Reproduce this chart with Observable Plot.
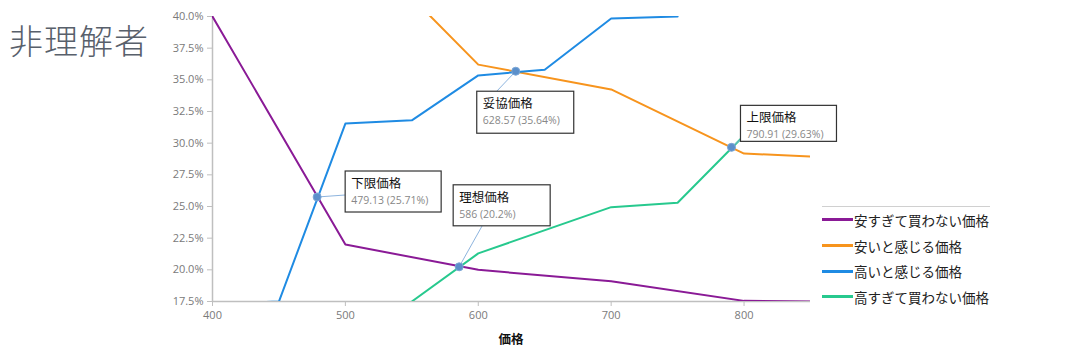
<!DOCTYPE html>
<html><head><meta charset="utf-8">
<script src="https://cdn.jsdelivr.net/npm/d3@7"></script>
<script src="https://cdn.jsdelivr.net/npm/@observablehq/plot@0.6"></script>
<style>
body{margin:0;background:#fff;font-family:"Noto Sans CJK JP","Noto Sans",sans-serif;}
#wrap{position:relative;width:1078px;height:351px;}
#title{position:absolute;left:9px;top:15px;font-size:34px;color:#58606b;font-family:"Noto Sans CJK JP",sans-serif;font-weight:300;letter-spacing:1px;}
#legend{position:absolute;left:822px;top:206px;width:168px;border-top:1px solid #d0d0d0;font-size:13.5px;color:#222;}
.li{display:flex;align-items:center;height:25.7px;}
.sw{width:31px;height:3px;margin-right:1px;}
</style></head><body>
<div id="wrap"><div id="chart"></div><div id="title">非理解者</div><div id="legend"></div></div>
<script>
const seriesNames = ["安すぎて買わない価格","安いと感じる価格","高いと感じる価格","高すぎて買わない価格"];
const colors = ["#8a1a96","#f7941d","#1f8be3","#27c98e"];
const tooCheapX = [400,500,600,700,800,850];
const tooCheapY = [40.0,22.0,20.0,19.1,17.55,17.5];
const cheapX = [550,600,700,800,850];
const cheapY = [41.5,36.2,34.24,29.18,28.95];
const expensiveX = [400,450,500,550,600,650,700,750];
const expensiveY = [17.3,17.5,31.55,31.8,35.35,35.8,39.84,40.0];
const tooExpX = [550,600,700,750,800];
const tooExpY = [17.5,21.3,24.95,25.3,30.6];
const xTicks = [400,500,600,700,800];
const yTicks = [17.5,20,22.5,25,27.5,30,32.5,35,37.5,40];
const annNames = ["下限価格","理想価格","妥協価格","上限価格"];
const annX = [479.13,586,628.57,790.91];
const annY = [25.71,20.2,35.64,29.63];
const annText = ["479.13 (25.71%)","586 (20.2%)","628.57 (35.64%)","790.91 (29.63%)"];

const xs=[tooCheapX,cheapX,expensiveX,tooExpX], ys=[tooCheapY,cheapY,expensiveY,tooExpY];
const rows=[];
seriesNames.forEach((s,i)=>xs[i].forEach((x,j)=>rows.push({s,x,y:ys[i][j]/100})));
const ann = annNames.map((n,i)=>({n,x:annX[i],y:annY[i]/100,t:annText[i]}));

const plot = Plot.plot({
  width:1078,height:351,marginLeft:212,marginRight:268,marginTop:16,marginBottom:50,
  style:{fontFamily:"'Open Sans','Noto Sans CJK JP',sans-serif",fontSize:"11px",color:"#7a7a7a"},
  x:{domain:[400,850],ticks:xTicks,tickSize:5,tickPadding:5,label:null},
  y:{domain:[0.175,0.40],ticks:yTicks.map(v=>v/100),tickFormat:d=>(d*100).toFixed(1)+"%",tickSize:5,tickPadding:4,label:null},
  color:{domain:seriesNames,range:colors},
  marks:[
    Plot.ruleY([0.175],{stroke:"#bfbfbf",strokeWidth:1.5}),
    Plot.ruleX([400],{stroke:"#bfbfbf",strokeWidth:1.5}),
    Plot.line(rows,{x:"x",y:"y",z:"s",stroke:"s",strokeWidth:2,clip:true}),
  ]
});
document.getElementById("chart").appendChild(plot);
const sx=plot.scale("x"), sy=plot.scale("y");
const svg=d3.select(plot);
svg.selectAll("[aria-label='x-axis tick'] path, [aria-label='y-axis tick'] path").attr("stroke","#bfbfbf");
svg.append("text").attr("x",sx.apply(625)).attr("y",344).attr("text-anchor","middle")
  .attr("font-size",12.5).attr("font-weight","bold").attr("fill","#111")
  .attr("font-family","'Noto Sans CJK JP'").text("価格");
const boxOff=[[28,-26,96,41],[-6,-82,97,41],[-39,20,97,42],[9,-42,96,36]];
const conn=[[0,24],[29,41],[20,0],[0,34]];
const g=svg.append("g").attr("text-anchor","start");
ann.forEach((a,i)=>{
  const px=sx.apply(a.x), py=sy.apply(a.y);
  const [ox,oy,w,h]=boxOff[i];
  const bx=px+ox, by=py+oy;
  g.append("line").attr("x1",px).attr("y1",py).attr("x2",bx+conn[i][0]).attr("y2",by+conn[i][1])
    .attr("stroke","#8db4de").attr("stroke-width",1);
  g.append("rect").attr("x",bx).attr("y",by).attr("width",w).attr("height",h)
    .attr("fill","#fff").attr("stroke","#333").attr("stroke-width",1.2);
  g.append("text").attr("x",bx+6).attr("y",by+17).attr("font-size",12.5).attr("fill","#111")
    .attr("text-anchor","start").attr("font-family","'Noto Sans CJK JP'").text(a.n);
  g.append("text").attr("x",bx+6).attr("y",by+33).attr("font-size",10.5).attr("fill","#888")
    .attr("text-anchor","start").attr("font-family","'Open Sans',sans-serif").text(a.t);
  g.append("circle").attr("cx",px).attr("cy",py).attr("r",4).attr("fill","#5b8fca").attr("stroke","#7aa6d6");
});
const lg=document.getElementById("legend");
seriesNames.forEach((s,i)=>{
  const d=document.createElement("div");d.className="li";
  d.innerHTML=`<span class="sw" style="background:${colors[i]}"></span><span>${s}</span>`;
  lg.appendChild(d);
});
</script></body></html>
